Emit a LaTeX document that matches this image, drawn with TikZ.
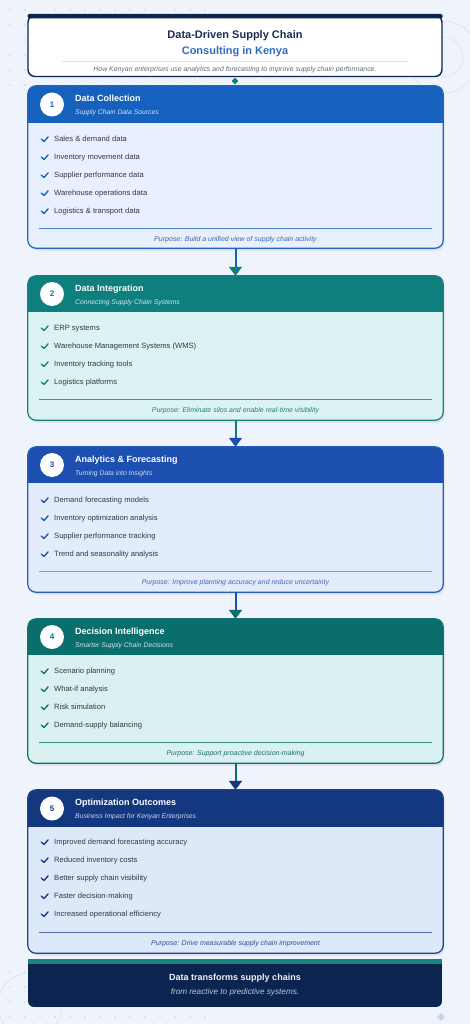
\documentclass[tikz,border=0pt]{standalone}
\usepackage{fontspec}
\setmainfont{Liberation Sans}
\usetikzlibrary{arrows.meta,shapes.geometric}
\definecolor{bg}{HTML}{EFF4FC}
\definecolor{dotc}{HTML}{C9D4E7}
\definecolor{ringc}{HTML}{DCE5F2}
\definecolor{navy}{HTML}{0C2550}
\definecolor{titlec}{HTML}{1B2C52}
\definecolor{consultc}{HTML}{2F6CC5}
\definecolor{hsubc}{HTML}{5E6A80}
\definecolor{hlinec}{HTML}{DCE3EE}
\definecolor{tealc}{HTML}{0E7E7C}
\definecolor{shadowc}{HTML}{D8E0ED}
\definecolor{itemc}{HTML}{2E3848}
\definecolor{footbar}{HTML}{168580}
\definecolor{foottext}{HTML}{F0F4FA}
\definecolor{footsub}{HTML}{B8C6DC}
\definecolor{cornerdia}{HTML}{C8D5E8}
% box 1
\definecolor{bAhead}{HTML}{1661BE}\definecolor{bAbody}{HTML}{E7F0FC}\definecolor{bAborder}{HTML}{2366C2}
\definecolor{bAline}{HTML}{4C7FCB}\definecolor{bApurp}{HTML}{3A68B3}\definecolor{bAsub}{HTML}{D0E0F6}
% box 2
\definecolor{bBhead}{HTML}{0E7F7C}\definecolor{bBbody}{HTML}{DCF3F3}\definecolor{bBborder}{HTML}{168380}
\definecolor{bBline}{HTML}{3F908E}\definecolor{bBpurp}{HTML}{2A7B79}\definecolor{bBsub}{HTML}{CFEAEA}
% box 3
\definecolor{bChead}{HTML}{1C4FB0}\definecolor{bCbody}{HTML}{E3ECFB}\definecolor{bCborder}{HTML}{2A5CBB}
\definecolor{bCline}{HTML}{7C9AD6}\definecolor{bCpurp}{HTML}{4668B5}\definecolor{bCsub}{HTML}{D0DCF4}
% box 4
\definecolor{bDhead}{HTML}{0A6F6C}\definecolor{bDbody}{HTML}{DAF1F1}\definecolor{bDborder}{HTML}{14716F}
\definecolor{bDline}{HTML}{3B8E8C}\definecolor{bDpurp}{HTML}{1E6E6C}\definecolor{bDsub}{HTML}{CDE6E6}
% box 5
\definecolor{bEhead}{HTML}{13387F}\definecolor{bEbody}{HTML}{DDE8F8}\definecolor{bEborder}{HTML}{1D4389}
\definecolor{bEline}{HTML}{5670A5}\definecolor{bEpurp}{HTML}{2E4F95}\definecolor{bEsub}{HTML}{CAD5EA}

\newcommand{\stagebox}[8]{%
  \pgfmathsetmacro\bh{#4-#2}%
  \pgfmathsetmacro\bc{(#2+#4)/2}%
  \pgfmathsetmacro\hc{(#2+#3)/2}%
  \fill[shadowc, rounded corners=8] (29.5,#2+2.5) rectangle (444.5,#4+2.5);
  \node[stagenode, fill=#5body, minimum height=\bh pt] (#1) at (235.5,\bc) {};
  \begin{scope}
    \clip[rounded corners=8] (28,#2) rectangle (443,#4);
    \fill[#5head] (28,#2) rectangle (443,#3);
  \end{scope}
  \draw[#5border, line width=1.2, rounded corners=8] (#1.north west) rectangle (#1.south east);
  \node[numcirc, text=#5head] (#1n) at (52,\hc) {#6};
  \node[titletext] (#1t) at (75,#2+12) {#7};
  \node[subtext, text=#5sub] (#1s) at (75,#2+26) {#8};
}
\newcommand{\stageitems}[4]{%
  \foreach \txt [count=\i] in {#4} {
    \pgfmathsetmacro\yy{#2+(\i-1)*18}
    \node[itemtext] (#1i\i) at (54,\yy) {\txt};
    \draw[#3head, line width=1.3, line cap=round, line join=round] (41.2,\yy) -- (44,\yy+2.5) -- (48.2,\yy-2.2);
  }
}
\newcommand{\stagepurpose}[5]{%
  \draw[#4line, line width=0.9] (39,#2) -- (432,#2);
  \node[purptext, text=#4purp] (#1p) at (235.5,#3) {#5};
}

\begin{document}
\begin{tikzpicture}[x=1pt,y=-1pt,
  stagenode/.style={rectangle, rounded corners=8, minimum width=415pt, inner sep=0pt, draw=none},
  numcirc/.style={circle, fill=white, minimum size=24pt, inner sep=0pt, font=\bfseries\fontsize{8}{9}\selectfont},
  titletext/.style={anchor=west, inner sep=0pt, text=white, font=\bfseries\fontsize{9}{10}\selectfont, text height=6.45pt, text depth=0pt},
  subtext/.style={anchor=west, inner sep=0pt, font=\itshape\fontsize{6.8}{8}\selectfont, text height=4.9pt, text depth=0pt},
  itemtext/.style={anchor=west, inner sep=0pt, text=itemc, font=\fontsize{7.6}{9}\selectfont, text height=5.4pt, text depth=0pt},
  purptext/.style={inner sep=0pt, font=\itshape\fontsize{7}{8}\selectfont, text height=5pt, text depth=0pt},
  htitle/.style={inner sep=0pt, font=\bfseries\fontsize{11}{12}\selectfont, text height=7.9pt, text depth=0pt},
  hsub/.style={inner sep=0pt, text=hsubc, font=\itshape\fontsize{6.9}{8}\selectfont, text height=4.9pt, text depth=0pt},
  arr/.style={line width=2pt},
]
\useasboundingbox (0,0) rectangle (470,1024);
\fill[bg] (0,0) rectangle (470,1024);
% decorations
\foreach \x in {10,25,...,205} {
  \foreach \y in {10,25,...,85} { \fill[dotc] (\x,\y) circle (0.8); }
  \foreach \y in {972,987,1002,1017} { \fill[dotc] (\x,\y) circle (0.8); }
}
\draw[ringc, line width=0.8] (443,57) circle (20);
\draw[ringc, line width=0.8] (443,57) circle (36);
\draw[ringc, line width=0.8] (30,1005) circle (32);
\node[diamond, fill=cornerdia, minimum size=8pt, inner sep=0pt] (cd) at (441,1017) {};

% header
\node[draw=navy, line width=1.4, fill=white, rounded corners=7, minimum width=414pt, minimum height=61pt, inner sep=0pt] (hdr) at (235,46) {};
\fill[navy, rounded corners=1.5] (27.5,14) rectangle (442.5,18.5);
\node[htitle, text=titlec] (ht1) at (235,35) {Data-Driven Supply Chain};
\node[htitle, text=consultc] (ht2) at (235,51) {Consulting in Kenya};
\draw[hlinec, line width=0.8] (62,61) -- (408,61);
\node[hsub] (hs) at (235,69) {How Kenyan enterprises use analytics and forecasting to improve supply chain performance.};
\node[diamond, fill=tealc, minimum size=7pt, inner sep=0pt] (hd) at (235,81) {};

% stage 1
\stagebox{b1}{86}{123}{248}{bA}{1}{Data Collection}{Supply Chain Data Sources}
\stageitems{b1}{139}{bA}{Sales \& demand data,Inventory movement data,Supplier performance data,Warehouse operations data,Logistics \& transport data}
\stagepurpose{b1}{228}{239}{bA}{Purpose: Build a unified view of supply chain activity}

% stage 2
\stagebox{b2}{276}{312}{420}{bB}{2}{Data Integration}{Connecting Supply Chain Systems}
\stageitems{b2}{328}{bB}{ERP systems,Warehouse Management Systems (WMS),Inventory tracking tools,Logistics platforms}
\stagepurpose{b2}{399}{410}{bB}{Purpose: Eliminate silos and enable real-time visibility}

% stage 3
\stagebox{b3}{447}{483}{592}{bC}{3}{Analytics \& Forecasting}{Turning Data into Insights}
\stageitems{b3}{500}{bC}{Demand forecasting models,Inventory optimization analysis,Supplier performance tracking,Trend and seasonality analysis}
\stagepurpose{b3}{571}{582}{bC}{Purpose: Improve planning accuracy and reduce uncertainty}

% stage 4
\stagebox{b4}{619}{655}{763}{bD}{4}{Decision Intelligence}{Smarter Supply Chain Decisions}
\stageitems{b4}{671}{bD}{Scenario planning,What-if analysis,Risk simulation,Demand-supply balancing}
\stagepurpose{b4}{742}{753}{bD}{Purpose: Support proactive decision-making}

% stage 5
\stagebox{b5}{790}{827}{953}{bE}{5}{Optimization Outcomes}{Business Impact for Kenyan Enterprises}
\stageitems{b5}{842}{bE}{Improved demand forecasting accuracy,Reduced inventory costs,Better supply chain visibility,Faster decision-making,Increased operational efficiency}
\stagepurpose{b5}{932}{943}{bE}{Purpose: Drive measurable supply chain improvement}

% connectors
\draw[arr, bAhead, -{Triangle[width=13pt,length=9pt,color=bBhead]}] (b1.south) -- (b2.north);
\draw[arr, bBhead, -{Triangle[width=13pt,length=9pt,color=bChead]}] (b2.south) -- (b3.north);
\draw[arr, bChead, -{Triangle[width=13pt,length=9pt,color=bDhead]}] (b3.south) -- (b4.north);
\draw[arr, bDhead, -{Triangle[width=13pt,length=9pt,color=bEhead]}] (b4.south) -- (b5.north);

% footer
\begin{scope}
  \clip[rounded corners=6] (28,950) rectangle (442,1007);
  \fill[footbar] (28,959) rectangle (442,963.5);
  \fill[navy] (28,963.5) rectangle (442,1007);
\end{scope}
\node[inner sep=0pt, text=foottext, font=\bfseries\fontsize{9}{10}\selectfont, text height=6.45pt, text depth=0pt] (ft1) at (235,977) {Data transforms supply chains};
\node[inner sep=0pt, text=footsub, font=\itshape\fontsize{8.2}{9}\selectfont, text height=5.9pt, text depth=0pt] (ft2) at (235,992) {from reactive to predictive systems.};
\end{tikzpicture}
\end{document}
